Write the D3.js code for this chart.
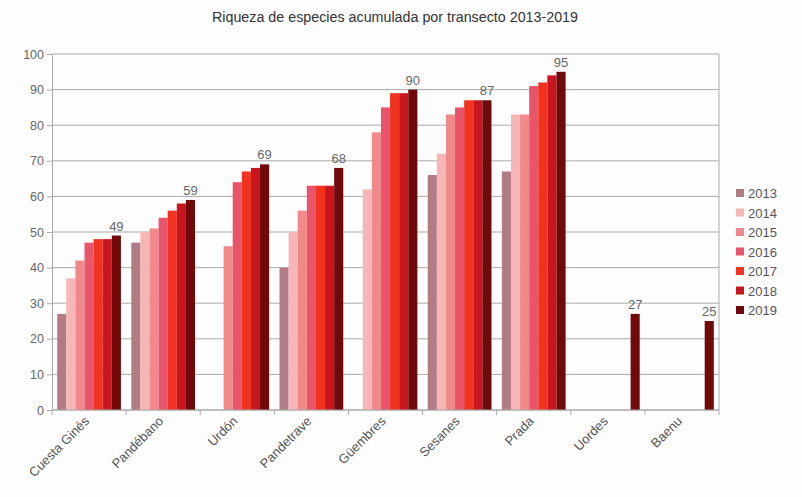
<!DOCTYPE html>
<html>
<head>
<meta charset="utf-8">
<script src="https://cdn.jsdelivr.net/npm/d3@7"></script>
<style>
body { margin: 0; background: #fff; }
text { font-family: "Liberation Sans", Arial, sans-serif; }
</style>
</head>
<body>
<div id="chart"></div>
<script>
const transects = ['Cuesta Ginés', 'Pandébano', 'Urdón', 'Pandetrave', 'Güembres', 'Sesanes', 'Prada', 'Uordes', 'Baenu']
const years = ['2013', '2014', '2015', '2016', '2017', '2018', '2019']
// one array per year, null = no data
const v2013 = [27, 47, null, 40, null, 66, 67, null, null]
const v2014 = [37, 50, null, 50, 62, 72, 83, null, null]
const v2015 = [42, 51, 46, 56, 78, 83, 83, null, null]
const v2016 = [47, 54, 64, 63, 85, 85, 91, null, null]
const v2017 = [48, 56, 67, 63, 89, 87, 92, null, null]
const v2018 = [48, 58, 68, 63, 89, 87, 94, null, null]
const v2019 = [49, 59, 69, 68, 90, 87, 95, 27, 25]
const series = [v2013, v2014, v2015, v2016, v2017, v2018, v2019]
const yearColors = ['#b27c85', '#f6b6b6', '#f08a8a', '#e8546a', '#f0321e', '#c8161e', '#700a0a']
const yTicks = [0, 10, 20, 30, 40, 50, 60, 70, 80, 90, 100]

const width = 802
const height = 497
const plot = {left: 52, right: 719, top: 54, bottom: 410}

const svg = d3.select('#chart')
	.append('svg')
	.attr('width', width)
	.attr('height', height)

svg.append('rect')
	.attr('width', width)
	.attr('height', height)
	.attr('fill', '#fdfdfd')

let xScale = d3.scaleBand()
	.domain(transects)
	.range([plot.left, plot.right])
	.paddingInner(0.14)
	.paddingOuter(0.07)

let xOuter = d3.scaleBand()
	.domain(transects)
	.range([plot.left, plot.right])

let xInner = d3.scaleBand()
	.domain(years)
	.range([0, xScale.bandwidth()])

let yScale = d3.scaleLinear()
	.domain([0, 100])
	.range([plot.bottom, plot.top])

// gridlines
svg.append('g')
	.selectAll('line')
	.data(yTicks)
	.enter()
	.append('line')
	.attr('x1', plot.left)
	.attr('x2', plot.right)
	.attr('y1', d => yScale(d))
	.attr('y2', d => yScale(d))
	.attr('stroke', '#aaa')
	.attr('stroke-width', 1)

svg.append('line')
	.attr('x1', plot.right).attr('x2', plot.right)
	.attr('y1', plot.top).attr('y2', plot.bottom)
	.attr('stroke', '#aaa')

// bars
let rows = []
transects.forEach(function(t, i){
	years.forEach(function(y, j){
		if(series[j][i] != null){
			rows.push({transect: t, year: y, value: series[j][i], color: yearColors[j]})
		}
	})
})

svg.append('g')
	.selectAll('rect')
	.data(rows)
	.enter()
	.append('rect')
	.attr('x', d => xScale(d.transect) + xInner(d.year))
	.attr('y', d => yScale(d.value))
	.attr('width', xInner.bandwidth())
	.attr('height', d => yScale(0) - yScale(d.value))
	.attr('fill', d => d.color)

// labels on the 2019 bars
svg.append('g')
	.selectAll('text')
	.data(rows.filter(d => d.year == '2019'))
	.enter()
	.append('text')
	.attr('x', d => xScale(d.transect) + xInner(d.year) + xInner.bandwidth() / 2)
	.attr('y', d => yScale(d.value) - 5)
	.attr('text-anchor', 'middle')
	.attr('font-size', 13)
	.attr('fill', '#666')
	.text(d => d.value)

// y axis
let yAxis = svg.append('g')
	.attr('transform', `translate(${plot.left},0)`)
	.call(d3.axisLeft(yScale).tickValues(yTicks).tickSize(5).tickPadding(3))
yAxis.select('.domain').attr('stroke', '#aaa')
yAxis.selectAll('.tick line').attr('stroke', '#aaa')
yAxis.selectAll('.tick text')
	.attr('font-size', 12.5)
	.attr('fill', '#666')
	.attr('font-family', 'Liberation Sans, Arial, sans-serif')

// x axis: ticks on category boundaries
let xAxisG = svg.append('g')
	.attr('transform', `translate(0,${plot.bottom})`)
xAxisG.append('line')
	.attr('x1', plot.left).attr('x2', plot.right)
	.attr('stroke', '#aaa')
xAxisG.selectAll('.bound')
	.data(transects.concat(['end']))
	.enter()
	.append('line')
	.attr('x1', (d, i) => plot.left + i * xOuter.step())
	.attr('x2', (d, i) => plot.left + i * xOuter.step())
	.attr('y1', 0)
	.attr('y2', 5)
	.attr('stroke', '#aaa')

xAxisG.selectAll('.lab')
	.data(transects)
	.enter()
	.append('text')
	.attr('transform', d => `translate(${xOuter(d) + xOuter.bandwidth() / 2 + 1},12) rotate(-45)`)
	.attr('text-anchor', 'end')
	.attr('font-size', 13)
	.attr('fill', '#555')
	.text(d => d)

// title
svg.append('text')
	.attr('x', 395)
	.attr('y', 22)
	.attr('text-anchor', 'middle')
	.attr('font-size', 14)
	.attr('fill', '#333')
	.attr('textLength', 366)
	.attr('lengthAdjust', 'spacingAndGlyphs')
	.text('Riqueza de especies acumulada por transecto 2013-2019')

// legend
let legend = svg.append('g')
	.selectAll('g')
	.data(years)
	.enter()
	.append('g')
	.attr('transform', (d, i) => `translate(736,${193 + i * 19.5})`)

legend.append('rect')
	.attr('x', 0)
	.attr('y', -4)
	.attr('width', 8)
	.attr('height', 8)
	.attr('fill', (d, i) => yearColors[i])

legend.append('text')
	.attr('x', 12)
	.attr('y', 5)
	.attr('font-size', 13)
	.attr('fill', '#555')
	.text(d => d)
</script>
</body>
</html>
